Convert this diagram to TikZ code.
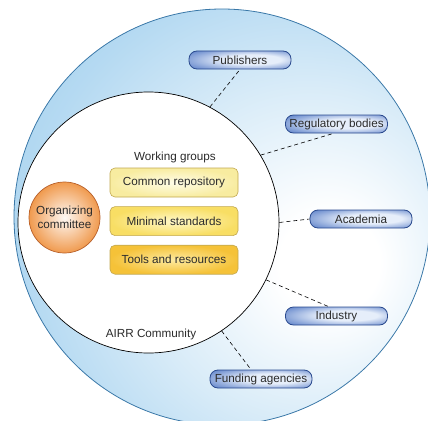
\documentclass[tikz,border=0pt]{standalone}
\usepackage{fontspec}
\setmainfont{Liberation Sans}
\usetikzlibrary{positioning}
\definecolor{txt}{HTML}{2B2B2B}
\definecolor{skyline}{HTML}{3A78A8}
\definecolor{skyfill}{HTML}{A0CFEE}
\definecolor{orgfill}{HTML}{F09A4E}
\definecolor{orgline}{HTML}{B8602A}
\definecolor{wgline}{HTML}{C2A850}
\definecolor{ptlight}{HTML}{E6EEFA}
\definecolor{ptdark}{HTML}{4A72C2}
\definecolor{ptline}{HTML}{2A4A8E}
\pgfdeclareradialshading{skyglow}{\pgfpoint{14bp}{-6bp}}{color(0bp)=(white); color(6bp)=(white); color(20bp)=(skyfill!40!white); color(32bp)=(skyfill!78!white); color(42bp)=(skyfill); color(80bp)=(skyfill)}
\pgfdeclareradialshading{tabglow}{\pgfpoint{8bp}{2bp}}{color(0bp)=(ptlight); color(14bp)=(ptlight); color(28bp)=(ptdark!55!ptlight); color(40bp)=(ptdark); color(60bp)=(ptdark)}
\tikzset{wgroup/.style={draw=wgline,rounded corners=5pt,line width=0.6pt,
		minimum width=128pt,minimum height=29pt,text=txt},
	partner/.style={draw=ptline,rounded corners=8pt,line width=0.8pt,
		minimum width=102pt,minimum height=18pt,inner xsep=2pt,
		shade,shading=tabglow,text=txt},
	link/.style={line width=0.6pt,dash pattern=on 4pt off 3pt}}

\begin{document}
\begin{tikzpicture}[x=1pt,y=-1pt,font=\fontsize{11.7}{13.5}\selectfont]
\useasboundingbox (0,0) rectangle (428,420);
\clip (0,0) rectangle (428,420);
\shade[shading=skyglow,draw=skyline,line width=0.8pt] (222,217) circle (208);
\node [circle,draw,fill=white,line width=0.7pt,minimum size=261pt] (community) at (148.5,222.5) {};
\node [text=txt] (airr) at (151,334) {AIRR Community};
\node [circle,draw=orgline,line width=0.7pt,minimum size=71pt,inner sep=0pt,
	inner color=orgfill!6!white,outer color=orgfill,text=txt,align=center] (org) at (64.5,217.5) {Organizing\\committee};
\node [text=txt] (wg) at (175,157) {Working groups};
\node [wgroup,inner color={rgb,255:red,255;green,253;blue,232},outer color={rgb,255:red,248;green,236;blue,160}] (repo) at (174,182.5) {Common repository};
\node [wgroup,below=9pt of repo,inner color={rgb,255:red,255;green,248;blue,200},outer color={rgb,255:red,248;green,222;blue,100}] (standards) {Minimal standards};
\node [wgroup,below=9pt of standards,inner color={rgb,255:red,253;green,234;blue,160},outer color={rgb,255:red,245;green,194;blue,56}] (tools) {Tools and resources};
\node [partner] (pub) at (240,60) {Publishers};
\node [partner] (reg) at (336.5,124) {Regulatory bodies};
\node [partner] (acad) at (361,219) {Academia};
\node [partner] (ind) at (336.5,316) {Industry};
\node [partner] (fund) at (261,379) {Funding agencies};
\draw [link] (community.62) -- (pub.south);
\draw [link] (community.31) -- ([xshift=-3pt]reg.south);
\draw [link] (community.0) -- (acad.west);
\draw [link] (community.-26) -- ([xshift=-8pt]ind.north);
\draw [link] (community.-56) -- ([xshift=-10pt]fund.north);
\end{tikzpicture}
\end{document}
